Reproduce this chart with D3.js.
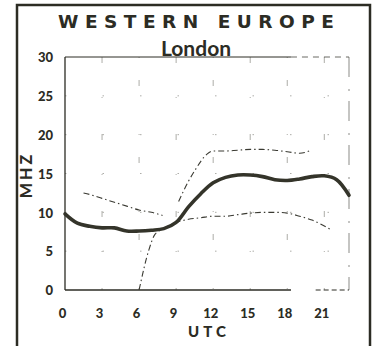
<!DOCTYPE html>
<html>
<head>
<meta charset="utf-8">
<script src="https://cdn.jsdelivr.net/npm/d3@7"></script>
<style>
  html, body { margin: 0; padding: 0; background: #fff; }
  svg { display: block; }
  text { font-family: Lato, "Open Sans", sans-serif; font-weight: 900; fill: #2c2c24; }
</style>
</head>
<body>
<svg id="chart" width="375" height="346"></svg>
<script>
// Hourly frequency prediction, London path (MHz vs UTC hour)
const title = "WESTERN EUROPE";
const subtitle = "London";
const xTicks = [0, 3, 6, 9, 12, 15, 18, 21];
const yTicks = [0, 5, 10, 15, 20, 25, 30];

// median (heavy line), hours 0..23
const medianHours = [0,1,2,3,4,5,6,7,8,9,10,11,12,13,14,15,16,17,18,19,20,21,22,23];
const medianMHz   = [9.8,8.6,8.2,8.0,8.0,7.6,7.6,7.7,7.9,8.7,10.7,12.4,13.8,14.5,14.8,14.8,14.6,14.2,14.1,14.3,14.6,14.7,14.2,12.2];

// upper limit, night section and day section
const upperNightHours = [1.5,2,3,4,5,6,7,7.9];
const upperNightMHz   = [12.5,12.3,11.8,11.3,10.8,10.3,10.0,9.6];
const upperDayHours = [9.2,10,10.6,11.5,12,13,14,15,16,17,18,19,19.8];
const upperDayMHz   = [11.4,14.0,15.6,17.5,17.9,17.9,18.0,18.1,18.1,18.0,17.8,17.6,17.9];

// lower limit
const lowerHours = [6,6.8,7.3,8,9.2,10,11,12,13,14,15,16,17,18,19,20,21.5];
const lowerMHz   = [0,5.2,7.2,7.9,8.8,9.1,9.3,9.5,9.5,9.7,9.9,10.0,10.0,9.9,9.5,9.0,7.8];

const svg = d3.select("#chart");

const x = d3.scaleLinear().domain([0, 23]).range([65, 349]);
const y = d3.scaleLinear().domain([0, 30]).range([290, 57]);
const ink = "#2c2c24";

// outer frame
svg.append("rect")
  .attr("x", 17).attr("y", 5).attr("width", 353).attr("height", 345)
  .attr("fill", "none").attr("stroke", ink).attr("stroke-width", 2.5);

// title block, stretched to a fixed width with letter spacing
const t = svg.append("text").attr("x", 58).attr("y", 28)
  .style("font-family", "'DejaVu Sans', sans-serif").style("font-weight", 700)
  .style("font-size", "18.5px").text(title);
const natural = t.node().getComputedTextLength();
t.attr("letter-spacing", ((276 - natural) / (title.length - 1)) + "px");

svg.append("text").attr("x", 196).attr("y", 56)
  .attr("text-anchor", "middle").style("font-size", "21px").style("font-weight", 700).text(subtitle);

// faint broken grid
const grid = svg.append("g").attr("stroke", "#77776e").attr("stroke-width", 1).attr("fill", "none");
grid.selectAll("line.v").data(xTicks.filter(d => d > 0)).join("line")
  .attr("class", "v")
  .attr("x1", d => x(d)).attr("x2", d => x(d))
  .attr("y1", y(30)).attr("y2", y(0))
  .attr("stroke-dasharray", (d, i) => i % 2 ? "1,22,6,48" : "6,34,1,36")
  .attr("opacity", 0.6);
grid.selectAll("line.h").data(yTicks.filter(d => d > 0 && d < 30)).join("line")
  .attr("class", "h")
  .attr("x1", x(0)).attr("x2", x(23))
  .attr("y1", d => y(d)).attr("y2", d => y(d))
  .attr("stroke-dasharray", "1.5,36")
  .attr("opacity", 0.6);

// plot border: solid left, bottom and top, broken right side
const border = svg.append("g").attr("stroke", ink).attr("fill", "none");
border.append("line").attr("x1", x(0)).attr("x2", x(0)).attr("y1", y(30)).attr("y2", y(0)).attr("stroke-width", 1.3);
border.append("line").attr("x1", x(0)).attr("x2", x(18.3)).attr("y1", y(0)).attr("y2", y(0)).attr("stroke-width", 1.3);
border.append("line").attr("x1", x(20.3)).attr("x2", x(23)).attr("y1", y(0)).attr("y2", y(0))
  .attr("stroke-width", 1).attr("stroke-dasharray", "5,3");
border.append("line").attr("x1", x(0)).attr("x2", x(18.3)).attr("y1", y(30)).attr("y2", y(30)).attr("stroke-width", 1);
border.append("line").attr("x1", x(18.3)).attr("x2", x(23)).attr("y1", y(30)).attr("y2", y(30))
  .attr("stroke-width", 1).attr("stroke-dasharray", "6,5").attr("opacity", 0.7);
border.append("line").attr("x1", x(23)).attr("x2", x(23)).attr("y1", y(30)).attr("y2", y(0))
  .attr("stroke-width", 1).attr("stroke-dasharray", "20,12,2,10").attr("opacity", 0.55);

// axis labels
svg.append("g").selectAll("text").data(yTicks).join("text")
  .attr("x", 53).attr("y", d => y(d)).attr("dy", "0.4em")
  .attr("text-anchor", "end").style("font-size", "13px").text(d => d);
svg.append("g").selectAll("text").data(xTicks).join("text")
  .attr("x", d => x(d) - 2.5).attr("y", 318)
  .attr("text-anchor", "middle").style("font-size", "13px").text(d => d);

svg.append("text").attr("x", 209).attr("y", 337).attr("text-anchor", "middle")
  .attr("letter-spacing", "4px").style("font-size", "15px").text("UTC");
svg.append("text").attr("transform", "translate(32,175) rotate(-90)")
  .attr("text-anchor", "middle").attr("letter-spacing", "3px").style("font-size", "16px").text("MHZ");

// limit curves (thin, broken)
const thin = d3.line().x(d => x(d[0])).y(d => y(d[1])).curve(d3.curveMonotoneX);
const thinSeries = [
  d3.zip(upperNightHours, upperNightMHz),
  d3.zip(upperDayHours, upperDayMHz),
  d3.zip(lowerHours, lowerMHz)
];
svg.append("g").selectAll("path").data(thinSeries).join("path")
  .attr("d", thin)
  .attr("fill", "none").attr("stroke", "#3a3a32").attr("stroke-width", 1.1)
  .attr("stroke-dasharray", "6,3,1.5,3");

// median curve
const heavy = d3.line().x(d => x(d[0])).y(d => y(d[1])).curve(d3.curveCatmullRom.alpha(0.5));
svg.append("path").datum(d3.zip(medianHours, medianMHz))
  .attr("d", heavy)
  .attr("fill", "none").attr("stroke", "#34342a").attr("stroke-width", 3.6)
  .attr("stroke-linejoin", "round").attr("stroke-linecap", "round");
</script>
</body>
</html>
